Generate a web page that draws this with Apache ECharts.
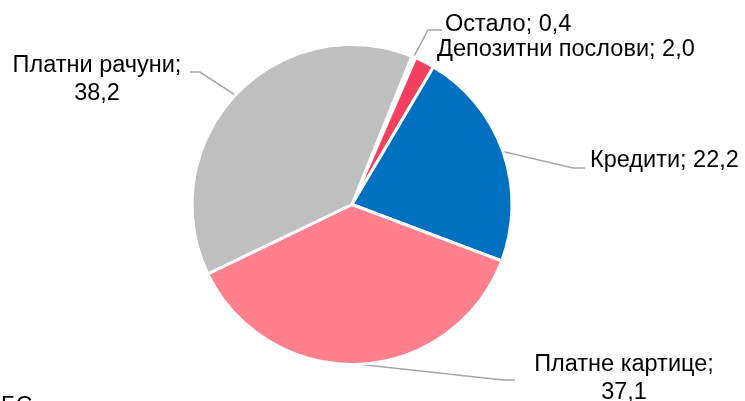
<!DOCTYPE html>
<html>
<head>
<meta charset="utf-8">
<script src="https://cdn.jsdelivr.net/npm/echarts@6/dist/echarts.min.js"></script>
<style>
html,body{margin:0;padding:0;background:#fff;}
#chart{width:745px;height:401px;}
</style>
</head>
<body>
<div id="chart"></div>
<script>
var categories = ['Остало', 'Депозитни послови', 'Кредити', 'Платне картице', 'Платни рачуни'];
var values = [0.4, 2.0, 22.2, 37.1, 38.2];
var colors = ['#FFFFFF', '#F43F5E', '#0070C0', '#FF808C', '#BFBFBF'];

// where each label sits, and the leader line bend/end
var labelPos = [
    {x: 445, y: 25, align: 'left', wrap: false, bend: [428, 30], end: [442, 30]},
    {x: 437, y: 50, align: 'left', wrap: false, bend: null},
    {x: 590, y: 161, align: 'left', wrap: false, bend: [573, 168], end: [585, 168]},
    {x: 624, y: 379, align: 'center', wrap: true, bend: [503, 380], end: [515, 380]},
    {x: 97, y: 80, align: 'center', wrap: true, bend: [200, 72], end: [190, 72]}
];

var data = [];
for (var i = 0; i < categories.length; i++) {
    data.push({
        name: categories[i],
        value: values[i],
        itemStyle: {color: colors[i]},
        labelLine: {show: labelPos[i].bend != null}
    });
}

var myChart = echarts.init(document.getElementById('chart'));
var option = {
    animation: false,
    backgroundColor: '#fff',
    graphic: [{
        type: 'text',
        left: 1,
        top: 395,
        style: {text: 'БС', font: '23px "Liberation Sans", Arial', fill: '#000'}
    }],
    series: [{
        type: 'pie',
        center: [352, 204.5],
        radius: 160,
        startAngle: 68,
        clockwise: true,
        avoidLabelOverlap: false,
        emphasis: {disabled: true},
        itemStyle: {borderColor: '#fff', borderWidth: 3},
        label: {
            show: true,
            position: 'outside',
            color: '#000',
            fontFamily: '"Liberation Sans", Arial',
            fontSize: 23.5,
            lineHeight: 28,
            formatter: function (p) {
                var l = labelPos[p.dataIndex];
                return p.name + ';' + (l.wrap ? '\n' : ' ') + p.value.toFixed(1).replace('.', ',');
            }
        },
        labelLine: {
            lineStyle: {color: '#A6A6A6', width: 1.5}
        },
        labelLayout: function (p) {
            var l = labelPos[p.dataIndex];
            var r = {x: l.x, y: l.y, align: l.align, verticalAlign: 'middle'};
            if (l.bend && p.labelLinePoints) {
                r.labelLinePoints = [p.labelLinePoints[0], l.bend, l.end];
            }
            return r;
        },
        data: data
    }]
};
myChart.setOption(option);
</script>
</body>
</html>
